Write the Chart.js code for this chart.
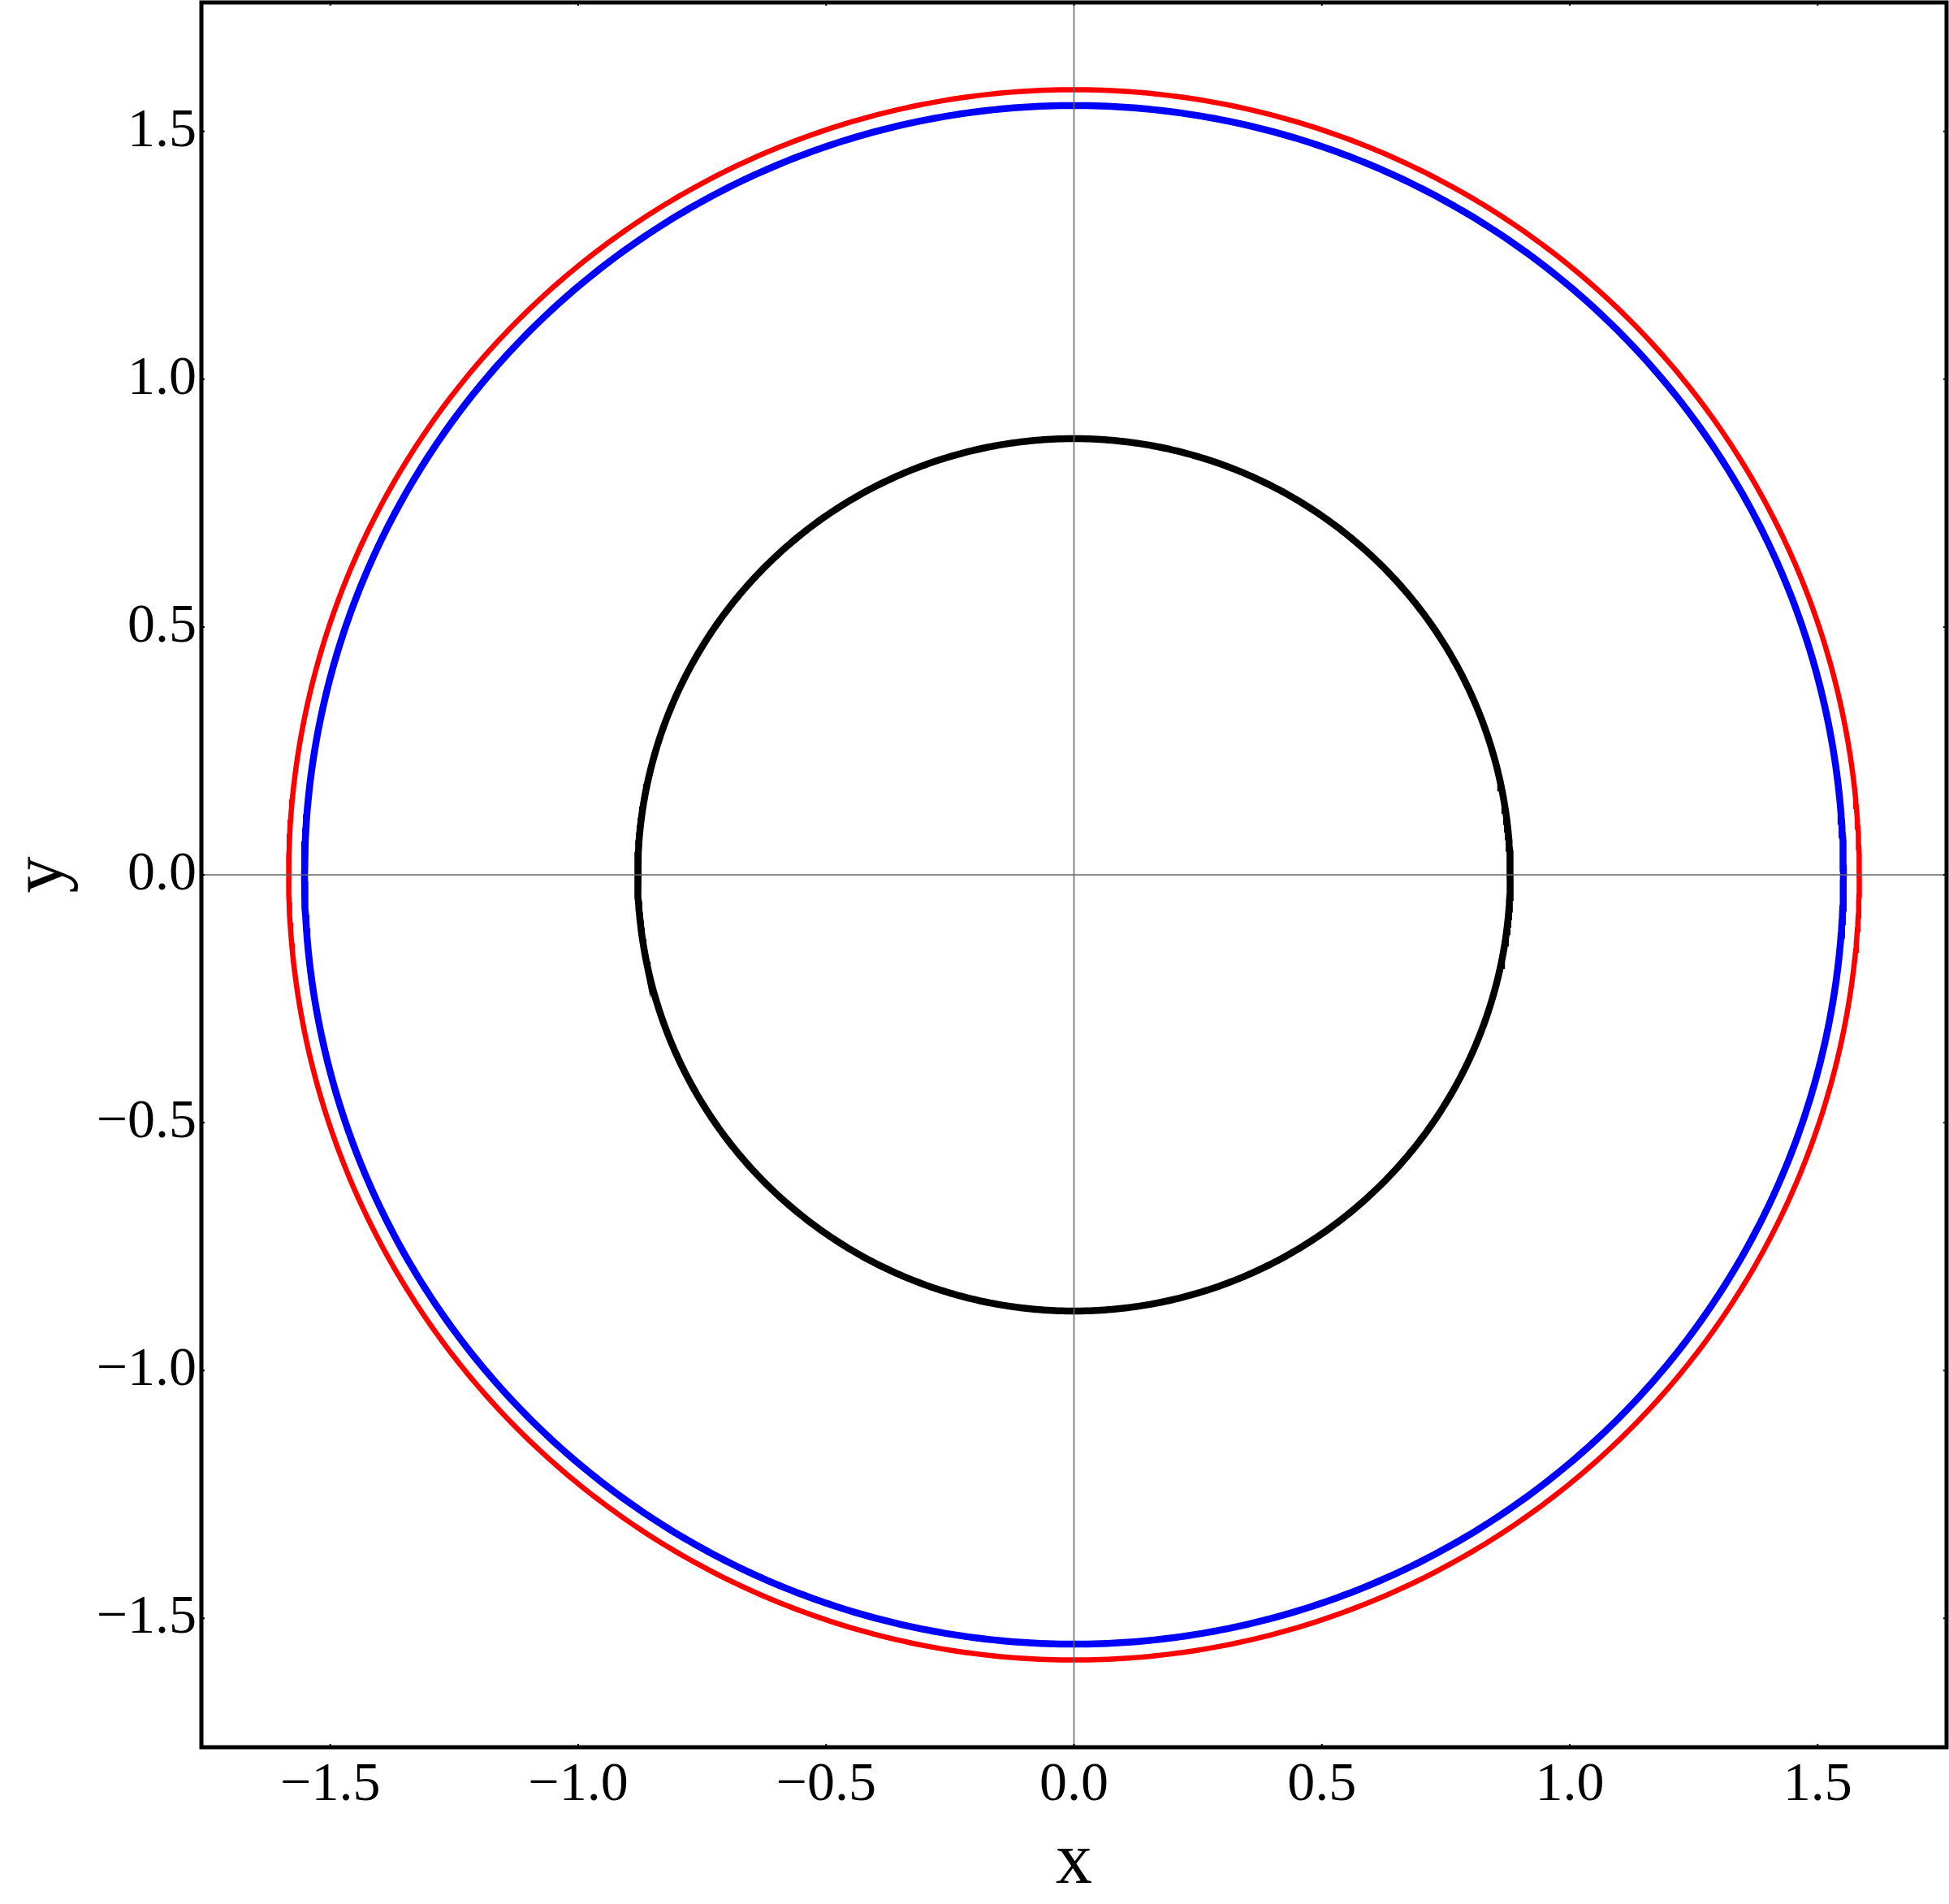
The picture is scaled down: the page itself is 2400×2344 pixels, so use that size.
<!DOCTYPE html>
<html>
<head>
<meta charset="utf-8">
<script src="https://cdn.jsdelivr.net/npm/chart.js@4.4.1/dist/chart.umd.min.js"></script>
<style>
  html, body { margin: 0; padding: 0; background: #fff; }
  canvas { display: block; }
</style>
</head>
<body>
<canvas id="circleChart" width="2400" height="2344"></canvas>
<script>
// Radii of the three circles (all centred on the origin)
const curveNames = ['outer', 'middle', 'inner'];
const curveRadii = [1.584, 1.552, 0.880];
const curveColors = ['#ff0000', '#0000ff', '#000000'];
const curveWidths = [6.5, 8.5, 8.5];

// Axes
const axisMin = -1.76;
const axisMax = 1.76;
const tickValues = [-1.5, -1.0, -0.5, 0.0, 0.5, 1.0, 1.5];
const xTitle = 'x';
const yTitle = 'y';

const SERIF = '"Liberation Serif", "Times New Roman", serif';

// turn a radius into a closed path of points for the line renderer
function circlePoints(r) {
    const pts = [];
    for (let i = 0; i <= 720; i++) {
        const t = (i / 720) * 2 * Math.PI;
        pts.push({ x: r * Math.cos(t), y: r * Math.sin(t) });
    }
    return pts;
}

function fmtTick(value) {
    return Number(value).toFixed(1).replace('-', '\u2212');
}

// gray zero lines, small inward ticks and the black frame
const framePlugin = {
    id: 'frame',
    afterDatasetsDraw(chart) {
        const { ctx, chartArea: a, scales } = chart;
        const x0 = scales.x.getPixelForValue(0);
        const y0 = scales.y.getPixelForValue(0);
        ctx.save();

        ctx.strokeStyle = '#646464';
        ctx.lineWidth = 1.5;
        ctx.beginPath();
        ctx.moveTo(x0, a.top);
        ctx.lineTo(x0, a.bottom);
        ctx.moveTo(a.left, y0);
        ctx.lineTo(a.right, y0);
        ctx.stroke();

        ctx.strokeStyle = '#000';
        ctx.lineWidth = 2;
        ctx.beginPath();
        scales.x.ticks.forEach(t => {
            const px = scales.x.getPixelForValue(t.value);
            ctx.moveTo(px, a.bottom);
            ctx.lineTo(px, a.bottom - 4);
            ctx.moveTo(px, a.top);
            ctx.lineTo(px, a.top + 4);
        });
        scales.y.ticks.forEach(t => {
            const py = scales.y.getPixelForValue(t.value);
            ctx.moveTo(a.left, py);
            ctx.lineTo(a.left + 4, py);
            ctx.moveTo(a.right, py);
            ctx.lineTo(a.right - 4, py);
        });
        ctx.stroke();

        ctx.lineWidth = 5;
        ctx.strokeRect(a.left, a.top, a.right - a.left, a.bottom - a.top);
        ctx.restore();
    }
};

const datasets = curveNames.map((name, i) => ({
    label: name,
    data: circlePoints(curveRadii[i]),
    borderColor: curveColors[i],
    borderWidth: curveWidths[i],
    pointRadius: 0,
    showLine: true,
    fill: false,
    tension: 0
}));

new Chart(document.getElementById('circleChart'), {
    type: 'scatter',
    data: { datasets },
    options: {
        responsive: false,
        animation: false,
        layout: { padding: { top: 3, right: 3, left: 0, bottom: 0 } },
        plugins: { legend: { display: false }, tooltip: { enabled: false } },
        scales: {
            x: {
                type: 'linear',
                min: axisMin,
                max: axisMax,
                afterBuildTicks: s => { s.ticks = tickValues.map(v => ({ value: v })); },
                afterFit: s => {
                    s.height = 193;
                    s.paddingLeft = 0;
                    s.paddingRight = 0;
                },
                grid: { display: false, drawTicks: false },
                border: { display: false },
                ticks: {
                    font: { family: SERIF, size: 68 },
                    color: '#000',
                    padding: 6,
                    maxRotation: 0,
                    autoSkip: false,
                    callback: fmtTick
                },
                title: {
                    display: true,
                    text: xTitle,
                    color: '#000',
                    font: { family: SERIF, size: 90, lineHeight: 1.1 },
                    padding: { top: 4, bottom: 0 }
                }
            },
            y: {
                type: 'linear',
                min: axisMin,
                max: axisMax,
                afterBuildTicks: s => { s.ticks = tickValues.map(v => ({ value: v })); },
                afterFit: s => {
                    s.width = 248;
                    s.paddingTop = 0;
                    s.paddingBottom = 0;
                },
                grid: { display: false, drawTicks: false },
                border: { display: false },
                ticks: {
                    font: { family: SERIF, size: 68 },
                    color: '#000',
                    padding: 6,
                    autoSkip: false,
                    callback: fmtTick
                },
                title: {
                    display: true,
                    text: yTitle,
                    color: '#000',
                    font: { family: SERIF, size: 90, lineHeight: 1.1 },
                    padding: { top: 4, bottom: 0 }
                }
            }
        }
    },
    plugins: [framePlugin]
});
</script>
</body>
</html>
